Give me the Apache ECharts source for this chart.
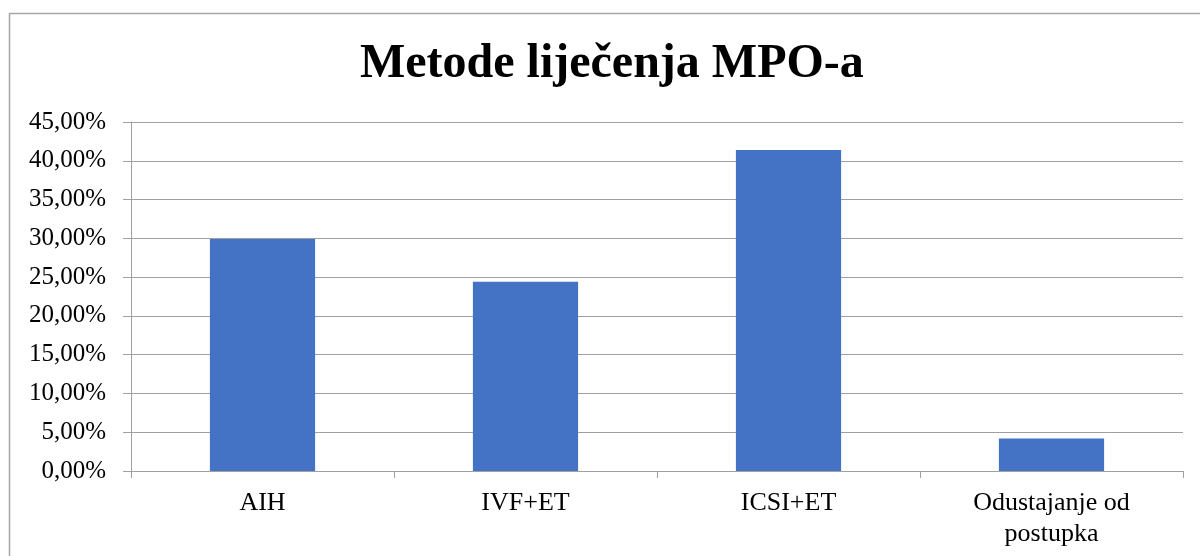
<!DOCTYPE html>
<html>
<head>
<meta charset="utf-8">
<script src="https://cdn.jsdelivr.net/npm/echarts@6/dist/echarts.min.js"></script>
<style>
html,body{margin:0;padding:0;background:#fff;}
#chart{width:1200px;height:556px;}
</style>
</head>
<body>
<div id="chart"></div>
<script>
const categories = ['AIH', 'IVF+ET', 'ICSI+ET', 'Odustajanje od\npostupka'];
const values = [29.9, 24.4, 41.4, 4.2];
const titleText = 'Metode liječenja MPO-a';

const chart = echarts.init(document.getElementById('chart'));
const serif = '"Liberation Serif", "Times New Roman", serif';
chart.setOption({
  animation: false,
  backgroundColor: '#fff',
  graphic: [{
    type: 'rect',
    shape: { x: 9.5, y: 13.5, width: 1200, height: 600 },
    style: { fill: 'none', stroke: '#a6a6a6', lineWidth: 1.5 },
    silent: true
  }],
  title: {
    text: titleText,
    left: 355,
    top: 36,
    textStyle: { fontFamily: serif, fontWeight: 'bold', fontSize: 48, color: '#000' }
  },
  grid: { left: 131, right: 17, top: 122, bottom: 85 },
  xAxis: {
    type: 'category',
    data: categories,
    axisLine: { lineStyle: { color: '#a0a0a0', width: 1 } },
    axisTick: { show: true, length: 7, lineStyle: { color: '#a0a0a0' } },
    axisLabel: { fontFamily: serif, fontSize: 26, color: '#000', margin: 17, lineHeight: 31, interval: 0 }
  },
  yAxis: {
    type: 'value',
    min: 0, max: 45, interval: 5,
    axisLine: { show: true, lineStyle: { color: '#a0a0a0', width: 1 } },
    axisTick: { show: true, length: 8, lineStyle: { color: '#a0a0a0' } },
    splitLine: { show: true, lineStyle: { color: '#a0a0a0', width: 1 } },
    axisLabel: {
      fontFamily: serif, fontSize: 25, color: '#000', margin: 25,
      formatter: v => v.toFixed(2).replace('.', ',') + '%'
    }
  },
  series: [{
    type: 'bar',
    data: values,
    barWidth: '40%',
    itemStyle: { color: '#4472C4' }
  }]
});
</script>
</body>
</html>
